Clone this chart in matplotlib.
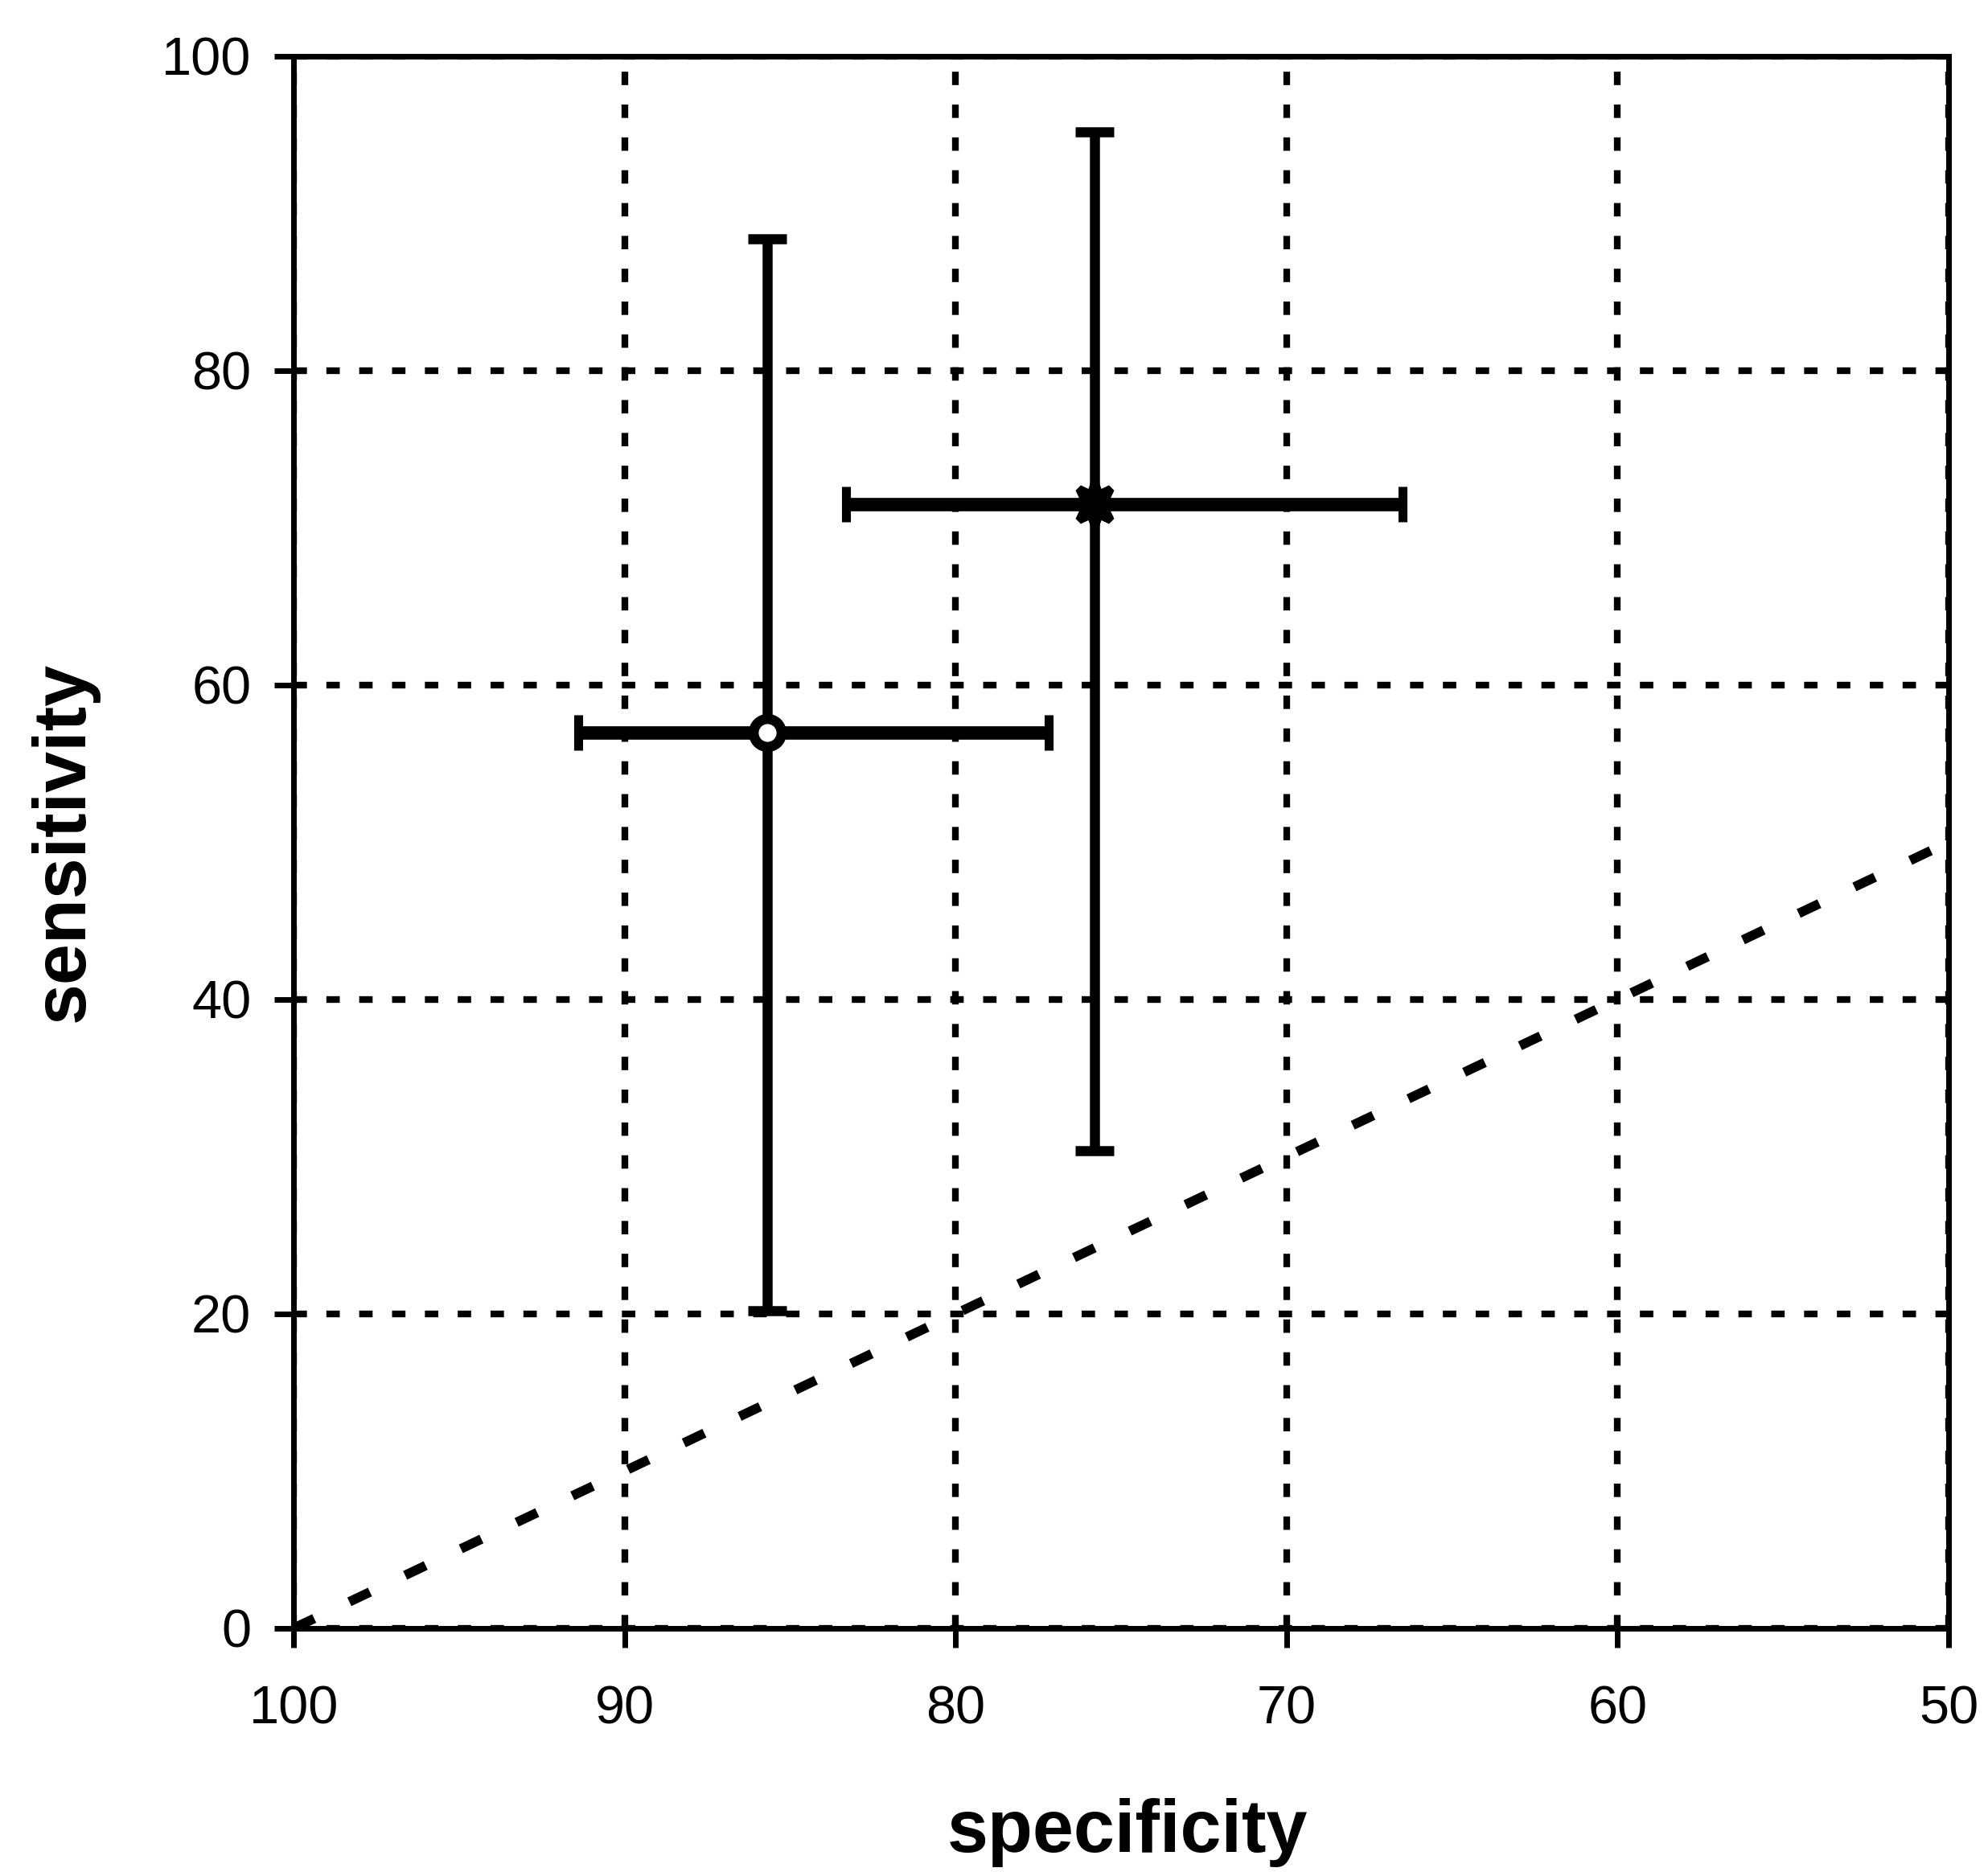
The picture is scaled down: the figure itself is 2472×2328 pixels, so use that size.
import numpy as np
import matplotlib
matplotlib.use("Agg")
import matplotlib.pyplot as plt

plt.rcParams['font.family'] = ['Liberation Sans', 'DejaVu Sans']

# values
specificity = np.array([85.7, 75.8])
sensitivity = np.array([57.0, 71.5])
spec_low = np.array([77.2, 66.5])
spec_high = np.array([91.4, 83.3])
sens_low = np.array([20.2, 30.4])
sens_high = np.array([88.4, 95.2])

# chance line
chance_spec = [100, 50]
chance_sens = [0, 50]

x_ticks = [100, 90, 80, 70, 60, 50]
y_ticks = [0, 20, 40, 60, 80, 100]

fig = plt.figure(figsize=(24.72, 23.28), dpi=100)
ax = fig.add_axes([0.1477, 0.1302, 0.8325, 0.8398])

ax.set_xlim(100, 50)
ax.set_ylim(0, 100)
ax.set_xticks(x_ticks)
ax.set_yticks(y_ticks)

ax.grid(True, color='black', linewidth=6, linestyle=(0, (2, 2.9)), zorder=1)
ax.set_axisbelow(True)

ax.plot(chance_spec, chance_sens, color='black', linewidth=8.5,
        linestyle=(0, (2.4, 4.1)), zorder=2)

xerr = [specificity - spec_low, spec_high - specificity]
yerr = [sensitivity - sens_low, sens_high - sensitivity]

# capsize is half the cap length in matplotlib
ax.errorbar(specificity, sensitivity, xerr=xerr, fmt='none', ecolor='black',
            elinewidth=12, capsize=16, capthick=8, zorder=3)
ax.errorbar(specificity, sensitivity, yerr=yerr, fmt='none', ecolor='black',
            elinewidth=9, capsize=17, capthick=9, zorder=3)

ax.plot(specificity[0], sensitivity[0], marker='o', markersize=25,
        markerfacecolor='white', markeredgecolor='black', markeredgewidth=9,
        linestyle='none', zorder=4)
ax.plot(specificity[1], sensitivity[1], marker=(8, 1, 0), markersize=40,
        markerfacecolor='black', markeredgecolor='black', markeredgewidth=7,
        linestyle='none', zorder=4)

for s in ax.spines.values():
    s.set_linewidth(5)
    s.set_color('black')

ax.tick_params(axis='both', direction='out', length=17, width=5, labelsize=48,
               colors='black')
ax.tick_params(axis='x', pad=34)
ax.tick_params(axis='y', pad=21)

ax.set_xlabel('specificity', fontsize=66, fontweight='bold')
ax.set_ylabel('sensitivity', fontsize=66, fontweight='bold')
ax.xaxis.set_label_coords(0.504, -0.108)
ax.yaxis.set_label_coords(-0.1176, 0.50)

fig.savefig('out.png', dpi=100, facecolor='white')
